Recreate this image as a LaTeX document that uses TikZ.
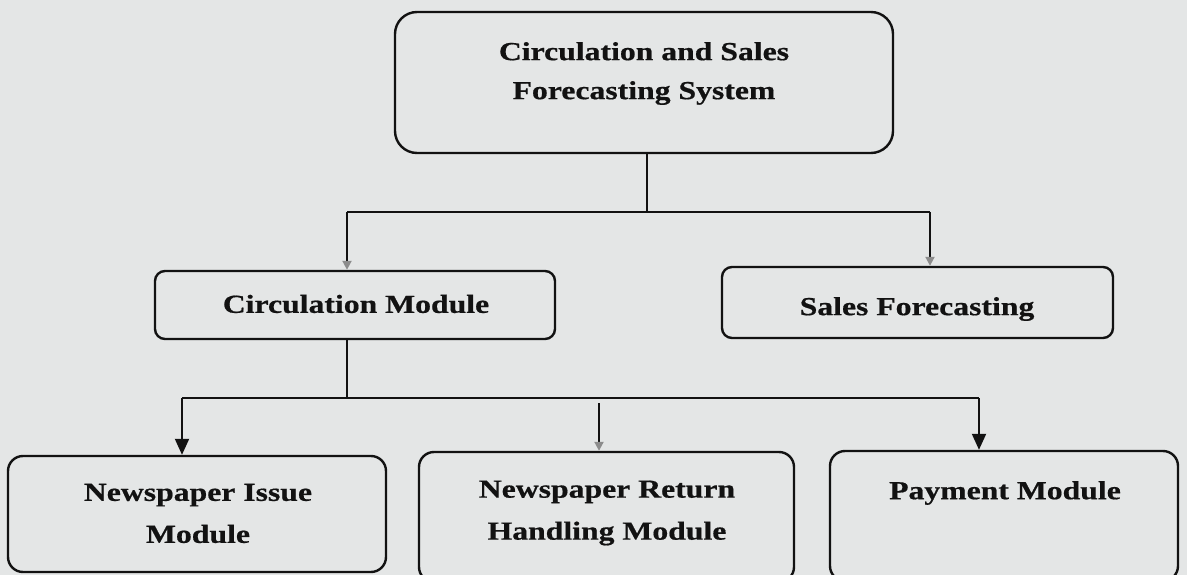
\documentclass[tikz,border=0pt]{standalone}
\usepackage{fontspec}
\setmainfont{Liberation Serif}[FakeStretch=1.22, BoldFeatures={FakeBold=0.6}]
\usetikzlibrary{arrows.meta}
\definecolor{paper}{HTML}{E4E6E6}
\definecolor{ink}{HTML}{121212}
\tikzset{
  box/.style={draw=ink, line width=2.4pt, inner sep=0pt},
  lbl/.style={text=ink, align=center, inner sep=0pt,
              font=\bfseries\fontsize{26}{42}\selectfont},
  conn/.style={draw=ink, line width=2pt},
  bigtip/.style={-{Triangle[width=14pt,length=16pt]}},
  smalltip/.style={-{Triangle[width=9pt,length=9pt,color=black!45]}}
}
\begin{document}
\begin{tikzpicture}[x=1pt,y=-1pt]
\fill[paper] (0,0) rectangle (1187,575);
\useasboundingbox (0,0) rectangle (1187,575);

% top level
\node[box, rounded corners=22pt, minimum width=498pt, minimum height=141pt] (sys) at (644,82.5) {};
\node[lbl, font=\bfseries\fontsize{26}{39}\selectfont] (syst) at (644,73.5) {Circulation and Sales\\Forecasting System};

% second level
\node[box, rounded corners=10pt, minimum width=400pt, minimum height=68pt] (circ) at (355,305) {};
\node[lbl] (circt) at (356,304) {Circulation Module};
\node[box, rounded corners=10pt, minimum width=391pt, minimum height=71pt] (sales) at (917.5,302.5) {};
\node[lbl] (salest) at (917,309) {Sales Forecasting};

% third level
\node[box, rounded corners=15pt, minimum width=378pt, minimum height=116pt] (issue) at (197,514) {};
\node[lbl] (issuet) at (198,513.5) {Newspaper Issue\\Module};
\node[box, rounded corners=15pt, minimum width=375pt, minimum height=130pt] (ret) at (606.5,517) {};
\node[lbl] (rett) at (607,513) {Newspaper Return\\Handling Module};
\node[box, rounded corners=15pt, minimum width=348pt, minimum height=130pt] (pay) at (1004,516) {};
\node[lbl] (payt) at (1005,493) {Payment Module};

% branch points
\coordinate (j0) at (647,212);
\coordinate (j1) at (347,212);
\coordinate (j2) at (930,212);
\coordinate (k0) at (347,398);
\coordinate (k1) at (182,398);
\coordinate (k2) at (599,403);
\coordinate (k3) at (979,398);

% system -> modules
\draw[conn] (j0 |- sys.south) -- (j0);
\draw[conn] (j1) -- (j2);
\draw[conn, smalltip] (j1) -- (j1 |- circ.north);
\draw[conn, smalltip] (j2) -- (j2 |- sales.north);

% circulation -> sub-modules
\draw[conn] (k0 |- circ.south) -- (k0);
\draw[conn] (k1) -- (k3);
\draw[conn, bigtip] (k1) -- (k1 |- issue.north);
\draw[conn, smalltip] (k2) -- (k2 |- ret.north);
\draw[conn, bigtip] (k3) -- (k3 |- pay.north);
\end{tikzpicture}
\end{document}
